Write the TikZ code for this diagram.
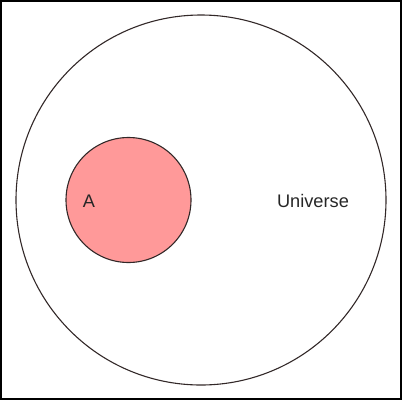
\documentclass[tikz,border=0pt]{standalone}
\usepackage{fontspec}
\setmainfont{Liberation Sans}
\definecolor{pinkfill}{RGB}{255,153,153}
\definecolor{edge}{RGB}{50,40,40}
\begin{document}
\begin{tikzpicture}[x=1pt,y=-1pt,
  setcircle/.style={circle,draw=edge,line width=1.1pt,inner sep=0pt},
  lbl/.style={font=\fontsize{18.2}{21}\selectfont,text=black!85,inner sep=0pt}]
\useasboundingbox (0,0) rectangle (402,400);
\draw[line width=1.6pt] (1,1) rectangle (401,399);
\node[setcircle,minimum size=370pt] (U) at (201,200) {};
\node[setcircle,fill=pinkfill,minimum size=125pt] (A) at (128.5,200) {};
\node[lbl] (la) at (89,201) {A};
\node[lbl] (lu) at (313,201) {Universe};
\end{tikzpicture}
\end{document}
